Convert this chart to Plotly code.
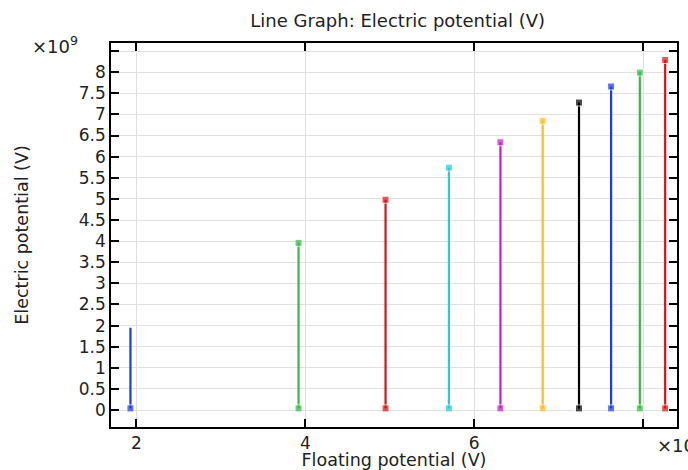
import plotly.graph_objects as go

SCALE = 1e9
# values in units of 1e9 V
floating = [1.93, 3.92, 4.95, 5.70, 6.31, 6.81, 7.24, 7.62, 7.96, 8.26]
top_vals = [1.95, 3.96, 4.98, 5.74, 6.34, 6.85, 7.28, 7.66, 7.99, 8.29]
bottom_vals = [0.04] * 10
show_top_marker = [False, True, True, True, True, True, True, True, True, True]
colors = ["#1a3cf0", "#33bb44", "#dd1111", "#22ccdd", "#c020c8", "#ffbb22",
          "#000000", "#1a3cf0", "#33bb44", "#dd1111"]

x_tick_vals = [2, 4, 6, 8]
x_tick_text = ["2", "4", "6", ""]
y_tick_vals = [i * 0.5 for i in range(18)]
y_tick_text = [("%g" % v) for v in y_tick_vals[:-1]] + [""]

font = "DejaVu Sans"
fig = go.Figure()
for xv, t, b, st, c in zip(floating, top_vals, bottom_vals, show_top_marker, colors):
    fig.add_trace(go.Scatter(
        x=[xv * SCALE, xv * SCALE], y=[b * SCALE, t * SCALE],
        mode="lines+markers",
        line=dict(color=c, width=2.2),
        marker=dict(symbol="square", size=[7, 7 if st else 0], color=c),
        showlegend=False, hoverinfo="skip"))

axis_common = dict(showline=True, linecolor="black", linewidth=1.5, mirror="allticks",
                   ticks="inside", ticklen=8, tickwidth=1.5, tickcolor="black",
                   showgrid=True, gridcolor="#e0e0e0", gridwidth=1, zeroline=False,
                   automargin=False,
                   tickfont=dict(family=font, size=17, color="#222"))

fig.update_xaxes(range=[1.70 * SCALE, 8.40 * SCALE],
                 tickvals=[v * SCALE for v in x_tick_vals], ticktext=x_tick_text,
                 title=dict(text="Floating potential (V)", font=dict(family=font, size=17.5, color="#222"), standoff=0),
                 **axis_common)
fig.update_yaxes(range=[-0.40 * SCALE, 8.69 * SCALE],
                 tickvals=[v * SCALE for v in y_tick_vals], ticktext=y_tick_text,
                 title=dict(text="Electric potential (V)", font=dict(family=font, size=17.5, color="#222"), standoff=46),
                 **axis_common)

fig.update_layout(
    width=688, height=470,
    margin=dict(l=111, r=11, t=43, b=43, autoexpand=False),
    plot_bgcolor="white", paper_bgcolor="white",
    title=dict(text="Line Graph: Electric potential (V)", x=0.578, xanchor="center",
               y=0.955, yanchor="middle", font=dict(family=font, size=18, color="#222")),
    annotations=[
        dict(text="×10<sup>9</sup>", xref="paper", yref="paper", x=-0.143, y=1.0,
             xanchor="left", yanchor="bottom", showarrow=False, yshift=-16,
             font=dict(family=font, size=18, color="#222")),
        dict(text="×10<sup>9</sup>", xref="paper", yref="paper", x=0.961, y=0,
             xanchor="left", yanchor="top", showarrow=False, yshift=-3,
             font=dict(family=font, size=18, color="#222")),
    ],
)

fig.write_html("out.html")
